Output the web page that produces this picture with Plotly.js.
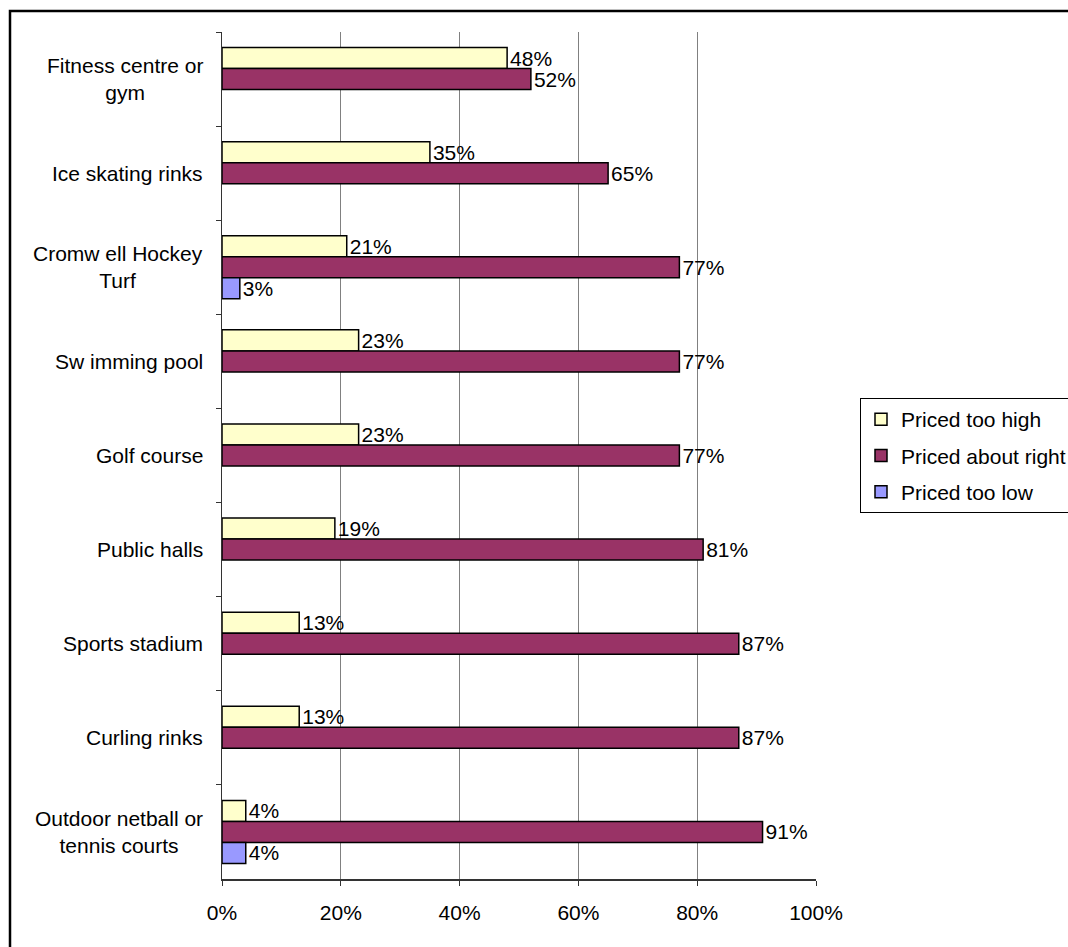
<!DOCTYPE html>
<html>
<head>
<meta charset="utf-8">
<script src="https://cdn.plot.ly/plotly-3.0.1.min.js"></script>
<style>
  html, body { margin: 0; padding: 0; background: #ffffff; }
  #chart { width: 1068px; height: 947px; }
</style>
</head>
<body>
<div id="chart"></div>
<script>
// ---- data (percent) ----
const categories = [
  "Fitness centre or<br>gym",
  "Ice skating rinks",
  "Cromw ell Hockey<br>Turf",
  "Sw imming pool",
  "Golf course",
  "Public halls",
  "Sports stadium",
  "Curling rinks",
  "Outdoor netball or<br>tennis courts"
];
const seriesNames = ["Priced too high", "Priced about right", "Priced too low"];
const pricedTooHigh    = [48, 35, 21, 23, 23, 19, 13, 13, 4];
const pricedAboutRight = [52, 65, 77, 77, 77, 81, 87, 87, 91];
const pricedTooLow     = [null, null, 3, null, null, null, null, null, 4];
const xTickVals = [0, 20, 40, 60, 80, 100];
const xTickText = ["0%", "20%", "40%", "60%", "80%", "100%"];

const seriesColors = ["#FFFFCC", "#993366", "#9999FF"];
const FONT = "Liberation Sans, Arial, sans-serif";
const FS = 21;

const seriesValues = [pricedTooHigh, pricedAboutRight, pricedTooLow];
const traces = seriesValues.map((vals, i) => ({
  type: "bar",
  orientation: "h",
  name: seriesNames[i],
  legendgroup: "g" + i,
  y: categories,
  x: vals,
  texttemplate: "%{x}%",
  textposition: "outside",
  constraintext: "none",
  cliponaxis: false,
  textfont: { family: FONT, size: FS, color: "#000000" },
  marker: { color: seriesColors[i], line: { color: "#000000", width: 1.5 } },
  hoverinfo: "skip"
}));

const L = 222, R = 816, T = 32, B = 879, W = 1068, H = 947;
const px2x = (p) => (p - L) / (R - L);
const px2y = (p) => (B - p) / (B - T);

const annotations = categories.map((c) => ({
  xref: "paper", yref: "y",
  x: 0, y: c,
  xanchor: "right", yanchor: "middle",
  xshift: -17,
  align: "center",
  showarrow: false,
  text: c,
  font: { family: FONT, size: FS, color: "#000000" }
}));

const layout = {
  width: W, height: H,
  margin: { l: L, r: W - R, t: T, b: H - B, pad: 0, autoexpand: false },
  paper_bgcolor: "#ffffff",
  plot_bgcolor: "#ffffff",
  barmode: "group",
  bargap: 0.33,
  bargroupgap: 0,
  font: { family: FONT, size: FS, color: "#000000" },
  xaxis: {
    range: [0, 100],
    tickvals: xTickVals,
    ticktext: xTickText,
    showgrid: true,
    gridcolor: "#808080",
    gridwidth: 1,
    zeroline: false,
    showline: true,
    linecolor: "#333333",
    linewidth: 1.5,
    ticks: "outside",
    ticklen: 5,
    tickcolor: "#333333",
    tickfont: { family: FONT, size: FS, color: "#000000" },
    ticklabelstandoff: 9,
    fixedrange: true
  },
  yaxis: {
    type: "category",
    autorange: "reversed",
    showticklabels: false,
    showgrid: false,
    zeroline: false,
    showline: true,
    linecolor: "#333333",
    linewidth: 1.5,
    ticks: "outside",
    tickson: "boundaries",
    ticklen: 5,
    tickcolor: "#333333",
    fixedrange: true
  },
  legend: {
    xref: "container", yref: "container",
    x: 860 / W, xanchor: "left",
    y: 1 - 398 / H, yanchor: "top",
    bgcolor: "#ffffff",
    bordercolor: "#000000",
    borderwidth: 1,
    traceorder: "grouped",
    tracegroupgap: 6,
    font: { family: FONT, size: FS, color: "#000000" }
  },
  showlegend: true,
  annotations: annotations,
  shapes: [{
    type: "rect", xref: "paper", yref: "paper",
    x0: px2x(10), x1: px2x(1200),
    y0: px2y(1100), y1: px2y(11),
    line: { color: "#000000", width: 2.5 },
    fillcolor: "rgba(0,0,0,0)",
    layer: "below"
  }]
};

Plotly.newPlot("chart", traces, layout, { displayModeBar: false, staticPlot: true });
</script>
</body>
</html>
